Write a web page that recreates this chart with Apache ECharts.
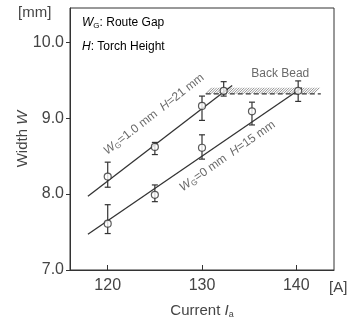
<!DOCTYPE html>
<html>
<head>
<meta charset="utf-8">
<script src="https://cdn.jsdelivr.net/npm/echarts@6/dist/echarts.min.js"></script>
<style>
  html, body { margin: 0; padding: 0; background: #fff; }
  #chart { width: 354px; height: 324px; }
</style>
</head>
<body>
<div id="chart"></div>
<script>
// Wg = 1.0 mm, H = 21 mm
const currentA = [120, 125, 130, 132.3];
const widthA = [8.23, 8.62, 9.16, 9.36];
const errLowA = [8.09, 8.52, 8.97, 9.29];
const errHighA = [8.42, 8.68, 9.29, 9.48];
const fitA = [[117.9, 7.97], [133.2, 9.43]];

// Wg = 0 mm, H = 15 mm
const currentB = [120, 125, 130, 135.3, 140.2];
const widthB = [7.61, 7.99, 8.61, 9.09, 9.36];
const errLowB = [7.48, 7.90, 8.46, 8.91, 9.22];
const errHighB = [7.86, 8.12, 8.78, 9.21, 9.49];
const fitB = [[117.9, 7.47], [140.6, 9.40]];

// back bead limit
const backBeadX = [130.4, 142.6];
const backBeadW = 9.32;
const backBeadTop = 9.40;

const xTicks = [120, 130, 140];
const yTicks = [7, 8, 9, 10];

const textColor = "#444";
const lineColor = "#333";
const font = "Liberation Sans, Arial, sans-serif";

const chart = echarts.init(document.getElementById("chart"));

const errData = currentA.map((x, i) => [x, errLowA[i], errHighA[i]])
  .concat(currentB.map((x, i) => [x, errLowB[i], errHighB[i]]));
const pointData = currentA.map((x, i) => [x, widthA[i]])
  .concat(currentB.map((x, i) => [x, widthB[i]]));

const rich = {
  t: { fontSize: 12, color: textColor, fontFamily: font },
  i: { fontSize: 12, color: textColor, fontFamily: font, fontStyle: "italic" },
  s: { fontSize: 8, color: textColor, fontFamily: font, padding: [6, 0, 0, 0] },
};

const options = {
  animation: false,
  grid: {
    left: 70,
    right: 20,
    top: 8,
    bottom: 50,
    show: true,
    borderColor: lineColor,
    borderWidth: 1,
  },
  xAxis: {
    type: "value",
    min: 116,
    max: 144,
    name: "{t|Current }{i|I}{s|a}",
    nameLocation: "middle",
    nameGap: 32,
    nameMoveOverlap: false,
    nameTextStyle: { rich: { t: { fontSize: 15, color: textColor, fontFamily: font }, i: { fontSize: 15, color: textColor, fontFamily: font, fontStyle: "italic" }, s: { fontSize: 9, color: textColor, fontFamily: font, padding: [8, 0, 0, 0] } } },
    axisLine: { show: true, onZero: false, lineStyle: { color: lineColor } },
    axisTick: { show: true, inside: true, length: 5, customValues: xTicks, lineStyle: { color: lineColor } },
    axisLabel: { customValues: xTicks, color: textColor, fontSize: 16, fontFamily: font, margin: 8 },
    splitLine: { show: false },
  },
  yAxis: {
    type: "value",
    min: 7,
    max: 10.45,
    name: "{t|Width }{i|W}",
    nameLocation: "middle",
    nameRotate: 90,
    nameGap: 40,
    nameMoveOverlap: false,
    nameTextStyle: { rich: { t: { fontSize: 15, color: textColor, fontFamily: font }, i: { fontSize: 15, color: textColor, fontFamily: font, fontStyle: "italic" } } },
    axisLine: { show: true, onZero: false, lineStyle: { color: lineColor } },
    axisTick: { show: true, length: 4, customValues: yTicks, lineStyle: { color: lineColor } },
    axisLabel: {
      customValues: yTicks,
      color: textColor,
      fontSize: 16,
      fontFamily: font,
      margin: 6,
      formatter: (v) => v.toFixed(1),
    },
    splitLine: { show: false },
  },
  graphic: [
    { type: "text", left: 18, top: 5, style: { text: "[mm]", fontSize: 15, fill: textColor, fontFamily: font } },
    { type: "text", left: 329, top: 280, style: { text: "[A]", fontSize: 15, fill: textColor, fontFamily: font } },
    {
      type: "text", left: 82, top: 17,
      style: { text: "{i|W}{s|G}{t|: Route Gap}", rich: rich },
    },
    {
      type: "text", left: 82, top: 41,
      style: { text: "{i|H}{t|: Torch Height}", rich: rich },
    },
  ],
  series: [
    {
      name: "fitA",
      type: "line",
      data: fitA,
      symbol: "none",
      lineStyle: { color: lineColor, width: 1.3 },
      z: 3,
    },
    {
      name: "fitB",
      type: "line",
      data: fitB,
      symbol: "none",
      lineStyle: { color: lineColor, width: 1.3 },
      z: 3,
    },
    {
      name: "backBeadLine",
      type: "line",
      data: backBeadX.map((x) => [x, backBeadW]),
      symbol: "none",
      lineStyle: { color: lineColor, width: 1.2, type: [5, 3] },
      z: 3,
    },
    {
      name: "hatch",
      type: "custom",
      data: [[backBeadX[0], backBeadX[1], backBeadW, backBeadTop]],
      renderItem: (params, api) => {
        const p0 = api.coord([api.value(0), api.value(2)]);
        const p1 = api.coord([api.value(1), api.value(3)]);
        const children = [];
        const h = p0[1] - p1[1];
        for (let x = p0[0]; x < p1[0] - h; x += 2.5) {
          children.push({
            type: "line",
            shape: { x1: x, y1: p0[1], x2: x + h, y2: p1[1] },
            style: { stroke: "#777", lineWidth: 0.8 },
          });
        }
        return { type: "group", children: children };
      },
      z: 2,
    },
    {
      name: "errorBars",
      type: "custom",
      data: errData,
      renderItem: (params, api) => {
        const lo = api.coord([api.value(0), api.value(1)]);
        const hi = api.coord([api.value(0), api.value(2)]);
        const cap = 3;
        const st = { stroke: lineColor, lineWidth: 1.2 };
        return {
          type: "group",
          children: [
            { type: "line", shape: { x1: lo[0], y1: lo[1], x2: hi[0], y2: hi[1] }, style: st },
            { type: "line", shape: { x1: lo[0] - cap, y1: lo[1], x2: lo[0] + cap, y2: lo[1] }, style: st },
            { type: "line", shape: { x1: hi[0] - cap, y1: hi[1], x2: hi[0] + cap, y2: hi[1] }, style: st },
          ],
        };
      },
      z: 4,
    },
    {
      name: "points",
      type: "scatter",
      data: pointData,
      symbol: "circle",
      symbolSize: 7,
      itemStyle: { color: "#fff", borderColor: lineColor, borderWidth: 1.2 },
      z: 5,
    },
    {
      name: "labels",
      type: "scatter",
      symbolSize: 0,
      silent: true,
      data: [
        { value: [124.9, 9.05], label: { rotate: 38, formatter: "{i|W}{s|G}{t|=1.0 mm  }{i|H}{t|=21 mm}" } },
        { value: [132.7, 8.50], label: { rotate: 35, formatter: "{i|W}{s|G}{t|=0 mm  }{i|H}{t|=15 mm}" } },
        { value: [138.3, 9.58], label: { formatter: "{t|Back Bead}" } },
      ],
      label: { show: true, position: "inside", rich: rich },
      z: 6,
    },
  ],
};

chart.setOption(options);
</script>
</body>
</html>
